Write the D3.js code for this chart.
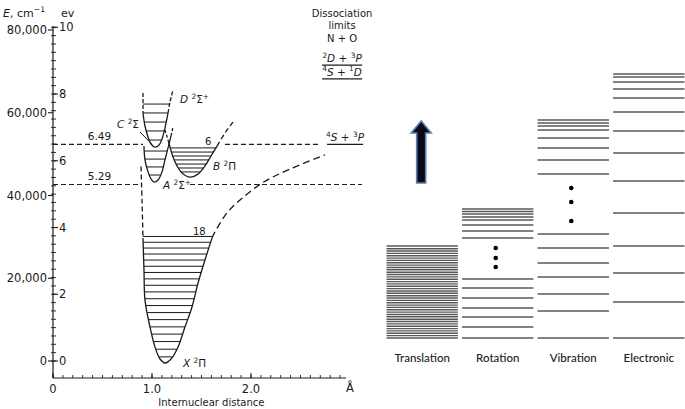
<!DOCTYPE html>
<html><head><meta charset="utf-8">
<script src="https://cdn.jsdelivr.net/npm/d3@7"></script>
<style>body{margin:0;background:#fff}svg{display:block}</style>
</head><body><svg id="c" width="685" height="409"></svg>
<script>
// ---------- LEFT PANEL DATA (r in Å, E in cm^-1) ----------
const E_TICKS = [0, 20000, 40000, 60000, 80000];
const E_TICK_LABELS = ["0", "20,000", "40,000", "60,000", "80,000"];
const EV_TICKS = [0, 2, 4, 6, 8, 10];
const R_TICKS = [0, 1, 2];
const R_TICK_LABELS = ["0", "1.0", "2.0"];
const CM_PER_EV = 8065.5;

// X 2Π ground state
const X_DASH_LEFT = [[0.889, 47000], [0.899, 38900], [0.909, 29700]];
const X_SOLID = [[0.909, 29700], [0.919, 22000], [0.929, 14700], [0.980, 8200], [1.030, 3400], [1.081, 480], [1.131, -480], [1.192, 480], [1.263, 3400], [1.333, 8200], [1.404, 13050], [1.465, 18850], [1.535, 24400], [1.606, 29700]];
const X_DASH_RIGHT = [[1.606, 29700], [1.636, 31200], [1.758, 35800], [1.889, 38900], [2.111, 43000], [2.394, 46400], [2.747, 49800]];
const X_LEVELS = [1000, 2850, 4700, 6500, 8250, 10000, 11700, 13400, 15050, 16700, 18300, 19850, 21400, 22900, 24400, 25850, 27300, 28700, 30100];

// A 2Σ+
const A_SOLID = [[0.919, 51950], [0.929, 48600], [0.960, 45700], [0.990, 44000], [1.020, 43250], [1.061, 43750], [1.101, 45700], [1.131, 48600], [1.162, 51500], [1.192, 54400]];
const A_DASH = [[1.192, 54400], [1.212, 56550]];
const A_LEVELS = [44950, 46900, 48800, 50750];

// D 2Σ+
const D_DASH_LEFT = [[0.909, 64800], [0.909, 59950]];
const D_SOLID = [[0.909, 59950], [0.929, 56800], [0.960, 54150], [0.990, 52450], [1.030, 51700], [1.071, 52200], [1.101, 53650], [1.131, 56300], [1.162, 59950]];
const D_DASH_RIGHT = [[1.162, 59950], [1.182, 62600], [1.212, 65500]];
const D_LEVELS = [53400, 55600, 57750, 59950, 62100];

// B 2Π
const B_DASH_LEFT = [[1.131, 55850], [1.162, 53400]];
const B_SOLID = [[1.162, 53400], [1.182, 51700], [1.212, 49300], [1.253, 47150], [1.303, 45450], [1.384, 44450], [1.465, 45200], [1.535, 47150], [1.596, 49550], [1.657, 51950]];
const B_DASH_RIGHT = [[1.657, 51950], [1.737, 55100], [1.818, 57750]];
const B_LEVELS = [45700, 46650, 47600, 48600, 49550, 50500, 51500];

// dissociation limits (eV) and their dashed line extents (Å)
const LIMIT_649 = 6.49, LIMIT_529 = 5.29;
const LIMIT_649_SEGMENTS = [[0, 0.909], [1.737, 2.677]];
const LIMIT_529_SEGMENTS = [[0, 0.889], [1.384, 3.12]];
const LIMIT_ND = 71500;  // 2D + 3P
const LIMIT_SD = 68200;  // 4S + 1D
const LIMIT_SP = 52340;  // 4S + 3P

// ---------- RIGHT PANEL DATA (relative energy units) ----------
const COLUMNS = ["Translation", "Rotation", "Vibration", "Electronic"];
const TRANSLATION = [0, 2.4, 4.7, 7.1, 9.4, 11.8, 14.1, 16.5, 18.8, 21.2, 23.5, 25.9, 28.2, 30.6, 32.9, 35.3, 37.6, 40, 42.3, 44.7, 47, 49.4, 51.7, 54.1, 56.4, 58.8, 61.1, 63.5, 65.8, 68.2, 70.5, 72.9, 75.2, 77.6, 79.9, 82.3, 84.6, 87, 89.3, 92];
const ROTATION = [0, 11, 21, 30, 40, 50, 59, 100, 107, 113, 118, 121, 124, 126.5, 129];
const VIBRATION = [0, 27, 44, 61, 75, 90, 104, 164, 178, 190, 200, 208, 212, 215, 218];
const ELECTRONIC = [0, 36, 65, 92, 125, 157, 185, 207, 226, 240, 249, 256, 261, 264];
const ROTATION_DOTS = [71, 80, 90];
const VIBRATION_DOTS = [117, 136, 150];
const ARROW = {column: "Translation", from: 155, to: 217};

// ---------- DRAW ----------
const svg = d3.select("#c");
const FONT = "DejaVu Sans, sans-serif";
const rS = d3.scaleLinear().domain([0, 3]).range([53, 350]);
const eS = d3.scaleLinear().domain([0, 80000]).range([361, 30]);
const evS = v => eS(v * CM_PER_EV);
const AXIS_Y = 378;
const ink = "#1a1a1a";

const L = svg.append("g");
// y axis
L.append("line").attr("x1", rS(0)).attr("x2", rS(0)).attr("y1", AXIS_Y).attr("y2", evS(10) - 1).attr("stroke", ink).attr("stroke-width", 1.2);
E_TICKS.forEach((t, i) => {
  L.append("line").attr("x1", rS(0) - 5).attr("x2", rS(0)).attr("y1", eS(t)).attr("y2", eS(t)).attr("stroke", ink).attr("stroke-width", 1.1);
  L.append("text").attr("x", rS(0) - 6).attr("y", eS(t)).attr("dy", "0.36em").attr("text-anchor", "end")
    .attr("font-family", FONT).attr("font-size", 11.5).attr("fill", ink).text(E_TICK_LABELS[i]);
});
EV_TICKS.forEach(t => {
  L.append("line").attr("x1", rS(0)).attr("x2", rS(0) + 5).attr("y1", evS(t)).attr("y2", evS(t)).attr("stroke", ink).attr("stroke-width", 1.1);
  L.append("text").attr("x", rS(0) + 6).attr("y", evS(t)).attr("dy", "0.36em")
    .attr("font-family", FONT).attr("font-size", 11.5).attr("fill", ink).text(t);
});
d3.range(0, 10.01, 0.25).forEach(v => {
  L.append("line").attr("x1", rS(0) - 2).attr("x2", rS(0) + 3).attr("y1", evS(v)).attr("y2", evS(v)).attr("stroke", ink).attr("stroke-width", 0.9);
});
// x axis
L.append("line").attr("x1", rS(0)).attr("x2", rS(2.96)).attr("y1", AXIS_Y).attr("y2", AXIS_Y).attr("stroke", ink).attr("stroke-width", 1.2);
d3.range(0, 2.95, 0.1).forEach(v => {
  L.append("line").attr("x1", rS(v)).attr("x2", rS(v)).attr("y1", AXIS_Y).attr("y2", AXIS_Y - 3).attr("stroke", ink).attr("stroke-width", 0.9);
});
R_TICKS.forEach((t, i) => {
  L.append("line").attr("x1", rS(t)).attr("x2", rS(t)).attr("y1", AXIS_Y).attr("y2", AXIS_Y - 5).attr("stroke", ink).attr("stroke-width", 1.1);
  L.append("text").attr("x", rS(t)).attr("y", AXIS_Y + 15).attr("text-anchor", "middle")
    .attr("font-family", FONT).attr("font-size", 11.5).attr("fill", ink).text(R_TICK_LABELS[i]);
});
L.append("text").attr("x", rS(3.0)).attr("y", AXIS_Y + 14).attr("text-anchor", "middle")
  .attr("font-family", FONT).attr("font-size", 11.5).attr("fill", ink).text("Å");
L.append("text").attr("x", rS(1.6)).attr("y", 406).attr("text-anchor", "middle")
  .attr("font-family", FONT).attr("font-size", 10).attr("fill", ink).text("Internuclear distance");

// rich text helper
function rich(g, x, y, parts, size, anchor) {
  const t = g.append("text").attr("x", x).attr("y", y).attr("font-family", FONT).attr("font-size", size).attr("fill", ink);
  if (anchor) t.attr("text-anchor", anchor);
  let shift = 0;
  parts.forEach(p => {
    const s = t.append("tspan").text(p.t);
    const want = p.sup ? -size * 0.42 : 0;
    s.attr("dy", want - shift); shift = want;
    if (p.sup) s.attr("font-size", size * 0.7);
    if (p.it) s.attr("font-style", "italic");
  });
  return t;
}
rich(L, 3, 17, [{t: "E", it: 1}, {t: ", cm"}, {t: "−1", sup: 1}], 11);
rich(L, 61, 17, [{t: "ev"}], 11);

// dashed limits
[[LIMIT_649, LIMIT_649_SEGMENTS], [LIMIT_529, LIMIT_529_SEGMENTS]].forEach(([ev, segs]) => {
  segs.forEach(s => L.append("line").attr("x1", rS(s[0])).attr("x2", rS(s[1])).attr("y1", evS(ev)).attr("y2", evS(ev))
    .attr("stroke", ink).attr("stroke-width", 1.1).attr("stroke-dasharray", "5,3"));
  L.append("text").attr("x", rS(0.47)).attr("y", evS(ev) - 4).attr("text-anchor", "middle")
    .attr("font-family", FONT).attr("font-size", 10.5).attr("fill", ink).text(ev.toFixed(2));
});

// curves
const line = d3.line().x(d => rS(d[0])).y(d => eS(d[1])).curve(d3.curveCatmullRom.alpha(0.5));
function curve(pts, dashed, dash) {
  L.append("path").attr("d", line(pts)).attr("fill", "none").attr("stroke", ink).attr("stroke-width", 1.3)
    .attr("stroke-dasharray", dashed ? (dash || "5,3") : null);
}
function crossing(branch, E) {
  for (let i = 0; i < branch.length - 1; i++) {
    const a = branch[i], b = branch[i + 1];
    if ((a[1] - E) * (b[1] - E) <= 0 && a[1] !== b[1]) return a[0] + (E - a[1]) / (b[1] - a[1]) * (b[0] - a[0]);
  }
  return null;
}
function levels(solid, dl, dr, lev) {
  let mi = 0; solid.forEach((p, i) => { if (p[1] < solid[mi][1]) mi = i; });
  const left = dl.concat(solid.slice(0, mi + 1));
  const right = solid.slice(mi).concat(dr);
  lev.forEach(E => {
    const a = crossing(left, E), b = crossing(right, E);
    if (a == null || b == null) return;
    L.append("line").attr("x1", rS(a)).attr("x2", rS(b)).attr("y1", eS(E)).attr("y2", eS(E)).attr("stroke", ink).attr("stroke-width", 1.0);
  });
}
curve(X_DASH_LEFT, true); curve(X_SOLID); curve(X_DASH_RIGHT, true, "7,4");
levels(X_SOLID, X_DASH_LEFT, X_DASH_RIGHT, X_LEVELS);
curve(A_SOLID); curve(A_DASH, true, "3,2");
levels(A_SOLID, [], A_DASH, A_LEVELS);
curve(D_DASH_LEFT, true, "4,2"); curve(D_SOLID); curve(D_DASH_RIGHT, true, "4,2");
levels(D_SOLID, D_DASH_LEFT, D_DASH_RIGHT, D_LEVELS);
curve(B_DASH_LEFT, true, "3,2"); curve(B_SOLID); curve(B_DASH_RIGHT, true, "5,3");
levels(B_SOLID, B_DASH_LEFT, B_DASH_RIGHT, B_LEVELS);

// C pointer
L.append("line").attr("x1", rS(0.879)).attr("y1", eS(55350)).attr("x2", rS(0.995)).attr("y2", eS(52500)).attr("stroke", ink).attr("stroke-width", 1);

// state labels
rich(L, rS(1.283), eS(62300), [{t: "D", it: 1}, {t: " "}, {t: "2", sup: 1}, {t: "Σ"}, {t: "+", sup: 1}], 10.5);
rich(L, rS(0.646), eS(56300), [{t: "C", it: 1}, {t: " "}, {t: "2", sup: 1}, {t: "Σ"}], 10.5);
rich(L, rS(1.111), eS(41550), [{t: "A", it: 1}, {t: " "}, {t: "2", sup: 1}, {t: "Σ"}, {t: "+", sup: 1}], 10.5);
rich(L, rS(1.616), eS(46150), [{t: "B", it: 1}, {t: " "}, {t: "2", sup: 1}, {t: "Π"}], 10.5);
rich(L, rS(1.313), eS(-1450), [{t: "X", it: 1}, {t: " "}, {t: "2", sup: 1}, {t: "Π"}], 10.5);
rich(L, rS(1.535), eS(52200), [{t: "6"}], 10);
rich(L, rS(1.414), eS(30450), [{t: "18"}], 10);

// dissociation limits text
const DX = rS(2.92);
rich(L, DX, 17, [{t: "Dissociation"}], 10, "middle");
rich(L, DX, 29, [{t: "limits"}], 10, "middle");
rich(L, DX, 42, [{t: "N + O"}], 10, "middle");
rich(L, DX, eS(LIMIT_ND) - 3, [{t: "2", sup: 1}, {t: "D", it: 1}, {t: " + "}, {t: "3", sup: 1}, {t: "P", it: 1}], 10.5, "middle");
rich(L, DX, eS(LIMIT_SD) - 3, [{t: "4", sup: 1}, {t: "S", it: 1}, {t: " + "}, {t: "1", sup: 1}, {t: "D", it: 1}], 10.5, "middle");
rich(L, rS(2.95), eS(LIMIT_SP) - 3, [{t: "4", sup: 1}, {t: "S", it: 1}, {t: " + "}, {t: "3", sup: 1}, {t: "P", it: 1}], 10.5, "middle");
[[DX, LIMIT_ND, 40], [DX, LIMIT_SD, 40], [rS(2.95), LIMIT_SP, 36]].forEach(([cx, E, w]) => {
  L.append("line").attr("x1", cx - w / 2).attr("x2", cx + w / 2).attr("y1", eS(E)).attr("y2", eS(E)).attr("stroke", ink).attr("stroke-width", 1.3);
});

// ---------- RIGHT PANEL ----------
const R = svg.append("g");
const xB = d3.scaleBand().domain(COLUMNS).range([386.5, 684.5]).paddingInner(0.055).paddingOuter(0);
const yR = d3.scaleLinear().domain([0, 270]).range([338, 68]);
const colData = {Translation: TRANSLATION, Rotation: ROTATION, Vibration: VIBRATION, Electronic: ELECTRONIC};
COLUMNS.forEach(c => {
  R.selectAll(null).data(colData[c]).enter().append("line")
    .attr("x1", xB(c)).attr("x2", xB(c) + xB.bandwidth())
    .attr("y1", d => yR(d)).attr("y2", d => yR(d))
    .attr("stroke", "#585858").attr("stroke-width", 1.4);
  R.append("text").attr("x", xB(c) + xB.bandwidth() / 2).attr("y", 361.5).attr("text-anchor", "middle")
    .attr("font-family", "Lato, sans-serif").attr("font-size", 11.5).attr("font-weight", 500).attr("fill", "#222").text(c);
});
[["Rotation", ROTATION_DOTS], ["Vibration", VIBRATION_DOTS]].forEach(([c, ds]) => {
  R.selectAll(null).data(ds).enter().append("circle")
    .attr("cx", xB(c) + xB.bandwidth() / 2 - 2).attr("cy", d => yR(d)).attr("r", 2.3).attr("fill", "#000");
});
// arrow
const ax = xB(ARROW.column) + xB.bandwidth() / 2 - 1;
const y0 = yR(ARROW.from), y1 = yR(ARROW.to);
const aw = 4.5, hw = 10, hh = 12;
R.append("path")
  .attr("d", `M${ax - aw},${y0} L${ax - aw},${y1 + hh} L${ax - hw},${y1 + hh} L${ax},${y1} L${ax + hw},${y1 + hh} L${ax + aw},${y1 + hh} L${ax + aw},${y0} Z`)
  .attr("fill", "#0b0b18").attr("stroke", "#5b7fb3").attr("stroke-width", 1.6).attr("stroke-linejoin", "miter");
</script></body></html>
